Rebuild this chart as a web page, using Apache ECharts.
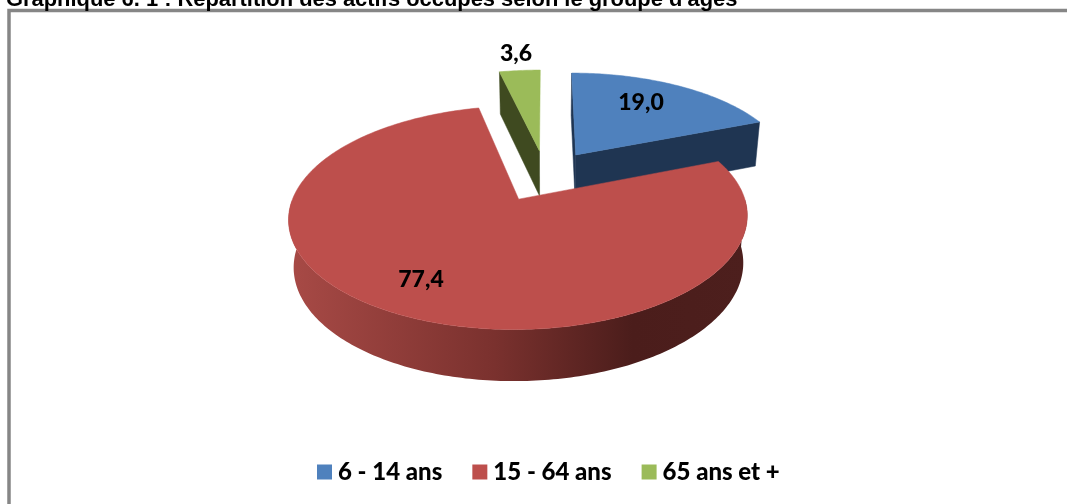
<!DOCTYPE html>
<html>
<head>
<meta charset="utf-8">
<style>html,body{margin:0;padding:0;background:#fff}#chart{width:1067px;height:504px}</style>
<script src="https://cdn.jsdelivr.net/npm/echarts@6/dist/echarts.min.js"></script>
</head>
<body>
<div id="chart"></div>
<script>
const categories = ['6 - 14 ans', '15 - 64 ans', '65 ans et +'];
const shares = [19.0, 77.4, 3.6];
const labelTexts = ['19,0', '77,4', '3,6'];
const topColors = ['#4f81bd', '#bd4f4c', '#9bbb59'];
const wallColors = ['#1f3552', null, '#3f4a20'];

// layout du camembert 3D
const centerX = 545.5, centerY = 175.5;
const radiusX = 218, radiusY = 101;
const perspective = 0.16;
const explode = 0.255;
const wallHeight = 46;
const bottomShrink = 0.98;
const labelPos = [[641, 103], [421, 280], [516, 54]];

const total = shares.reduce((a, b) => a + b, 0);

function startAngle(idx) {
  let sum = 0;
  for (let i = 0; i < idx; i++) sum += shares[i];
  return sum / total * Math.PI * 2;
}

// u droite, v vers le spectateur (rayon = 1)
function project(u, v, low) {
  const s = 1 / (1 - perspective * v);
  if (low) {
    return [centerX + radiusX * u * s * bottomShrink, centerY + radiusY * v * s + wallHeight * (1 + s) / 2];
  }
  return [centerX + radiusX * u * s, centerY + radiusY * v * s];
}

function renderSlice(idx, api) {
  const a0 = startAngle(idx);
  const a1 = a0 + api.value(0) / total * Math.PI * 2;
  const mid = (a0 + a1) / 2;
  const ou = Math.sin(mid) * explode, ov = -Math.cos(mid) * explode;
  const steps = Math.max(8, Math.round((a1 - a0) * 60));
  const rim = [];
  for (let i = 0; i <= steps; i++) {
    const a = a0 + (a1 - a0) * i / steps;
    rim.push([ou + Math.sin(a), ov - Math.cos(a)]);
  }
  const top = rim.map(p => project(p[0], p[1]));
  const apexTop = project(ou, ov);
  const apexLow = project(ou, ov, true);
  const children = [];

  const poly = (points, fill) => ({
    type: 'polygon',
    shape: { points: points },
    style: { fill: fill, stroke: typeof fill === 'string' ? fill : null, lineWidth: 0.5 }
  });

  if (idx === 1) {
    // paroi courbe avec degrade, seulement la partie avant
    const front = rim.filter(p => p[1] >= ov);
    const upper = front.map(p => project(p[0], p[1]));
    const lower = front.map(p => project(p[0], p[1], true)).reverse();
    children.push(poly(upper.concat(lower), {
      type: 'linear', x: 0, y: 0, x2: 1, y2: 0,
      colorStops: [
        { offset: 0, color: '#a84a46' },
        { offset: 0.45, color: '#7a312e' },
        { offset: 0.75, color: '#4b1d1b' },
        { offset: 1, color: '#4d1f1d' }
      ]
    }));
  } else if (idx === 0) {
    // blue: outer wall and the radial wall going to the apex
    const last = rim[rim.length - 1];
    const lastTop = project(last[0], last[1]);
    const lastLow = project(last[0], last[1], true);
    children.push(poly([apexTop, lastTop, lastLow, apexLow], wallColors[idx]));
    const first = project(rim[0][0], rim[0][1]);
    const firstLow = project(rim[0][0], rim[0][1], true);
    children.push(poly([apexTop, first, firstLow, apexLow], wallColors[idx]));
  } else {
    const first = project(rim[0][0], rim[0][1]);
    const firstLow = project(rim[0][0], rim[0][1], true);
    children.push(poly([apexTop, first, firstLow, apexLow], wallColors[idx]));
  }

  children.push(poly([apexTop].concat(top), topColors[idx]));
  children.push({
    type: 'text',
    style: {
      x: labelPos[idx][0], y: labelPos[idx][1],
      text: labelTexts[idx],
      fill: '#000',
      font: '900 23px Lato',
      align: 'center', verticalAlign: 'middle'
    }
  });
  return { type: 'group', children: children };
}

// ordre de dessin: vert, bleu, rouge
const drawOrder = [2, 0, 1];
const series = categories.map((name, i) => ({
  name: name,
  type: 'custom',
  coordinateSystem: 'none',
  z: 2 + drawOrder.indexOf(i),
  silent: true,
  itemStyle: { color: topColors[i] },
  data: [[shares[i]]],
  renderItem: (params, api) => renderSlice(i, api)
}));

const chart = echarts.init(document.getElementById('chart'), null, { renderer: 'canvas' });
chart.setOption({
  animation: false,
  title: {
    text: "Graphique 6. 1 : Répartition des actifs occupés selon le groupe d'âges",
    left: 1,
    top: -16,
    textStyle: { fontFamily: 'Liberation Sans', fontWeight: 'bold', fontSize: 21.9, color: '#000' }
  },
  legend: {
    data: categories,
    left: 312,
    top: 455,
    icon: 'rect',
    itemWidth: 15,
    itemHeight: 15,
    itemGap: 30,
    selectedMode: false,
    textStyle: { fontFamily: 'Lato', fontWeight: 900, fontSize: 24, color: '#000', padding: [0, 0, 0, 1] }
  },
  graphic: [{
    type: 'rect',
    z: 1,
    shape: { x: 9, y: 10.5, width: 1200, height: 700 },
    style: { fill: '#fff', stroke: '#868686', lineWidth: 3.5 }
  }],
  series: series
});
</script>
</body>
</html>
